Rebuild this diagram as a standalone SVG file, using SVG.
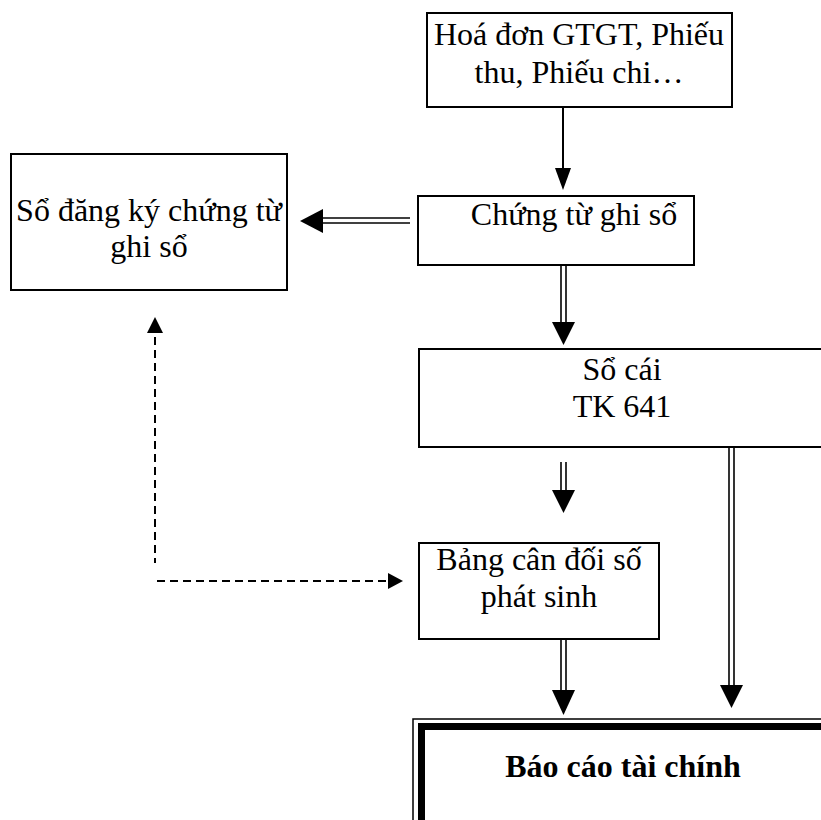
<svg xmlns="http://www.w3.org/2000/svg" width="821" height="820" viewBox="0 0 821 820">
  <style>
    .box { fill: #fff; stroke: #000; stroke-width: 2; }
    .lbl { font-family: "Liberation Serif", "Times New Roman", serif; font-size: 32px; fill: #000; text-anchor: middle; }
    .bold { font-weight: bold; }
    .rail { stroke: #000; stroke-width: 1.6; fill: none; }
    .dash { stroke: #000; stroke-width: 2; fill: none; stroke-dasharray: 8 5; }
    .head { fill: #000; }
  </style>
  <rect width="821" height="820" fill="#fff"/>

  <g id="hoa-don">
    <rect class="box" x="427" y="13" width="305" height="94"/>
    <text class="lbl" x="579" y="45">Hoá đơn GTGT, Phiếu</text>
    <text class="lbl" x="579" y="83">thu, Phiếu chi…</text>
  </g>

  <g id="chung-tu">
    <rect class="box" x="418" y="196" width="276" height="69"/>
    <text class="lbl" x="574" y="225">Chứng từ ghi sổ</text>
  </g>

  <g id="so-dang-ky">
    <rect class="box" x="11" y="154" width="276" height="136"/>
    <text class="lbl" x="149" y="221">Sổ đăng ký chứng từ</text>
    <text class="lbl" x="149" y="257">ghi sổ</text>
  </g>

  <g id="so-cai">
    <rect class="box" x="419" y="349" width="410" height="98"/>
    <text class="lbl" x="622" y="380">Sổ cái</text>
    <text class="lbl" x="622" y="417">TK 641</text>
  </g>

  <g id="bang-can-doi">
    <rect class="box" x="419" y="543" width="240" height="96"/>
    <text class="lbl" x="539" y="570">Bảng cân đối số</text>
    <text class="lbl" x="539" y="607">phát sinh</text>
  </g>

  <g id="bao-cao">
    <rect x="413" y="719" width="420" height="110" fill="#fff" stroke="#000" stroke-width="1.5"/>
    <rect x="421.5" y="726.5" width="420" height="110" fill="none" stroke="#000" stroke-width="7"/>
    <text class="lbl bold" x="623" y="777">Báo cáo tài chính</text>
  </g>

  <g id="connectors">
    <!-- single arrow: invoices to voucher -->
    <line x1="563" y1="107" x2="563" y2="170" stroke="#000" stroke-width="2"/>
    <polygon class="head" points="555,168 571,168 563,190"/>

    <!-- double arrow: voucher to register -->
    <line class="rail" x1="322" y1="218" x2="410" y2="218"/>
    <line class="rail" x1="322" y1="223" x2="410" y2="223"/>
    <polygon class="head" points="323,209 323,233 300,221"/>

    <!-- double arrow: voucher to ledger -->
    <line class="rail" x1="561" y1="265" x2="561" y2="323"/>
    <line class="rail" x1="566" y1="265" x2="566" y2="323"/>
    <polygon class="head" points="552,322 575,322 563.5,345"/>

    <!-- double arrow: ledger to trial balance -->
    <line class="rail" x1="561" y1="462" x2="561" y2="491"/>
    <line class="rail" x1="566" y1="462" x2="566" y2="491"/>
    <polygon class="head" points="552,490 575,490 563.5,513"/>

    <!-- double arrow: trial balance to report -->
    <line class="rail" x1="561" y1="639" x2="561" y2="691"/>
    <line class="rail" x1="566" y1="639" x2="566" y2="691"/>
    <polygon class="head" points="552,690 575,690 563.5,715"/>

    <!-- double arrow: ledger to report -->
    <line class="rail" x1="729" y1="447" x2="729" y2="686"/>
    <line class="rail" x1="734" y1="447" x2="734" y2="686"/>
    <polygon class="head" points="720,685 743,685 731.5,708"/>

    <!-- dashed cross-check link -->
    <line class="dash" x1="155" y1="337" x2="155" y2="563"/>
    <polygon class="head" points="147,333 163,333 155,317"/>
    <line class="dash" x1="157" y1="581" x2="388" y2="581"/>
    <polygon class="head" points="388,573 388,589 403,581"/>
  </g>
</svg>
